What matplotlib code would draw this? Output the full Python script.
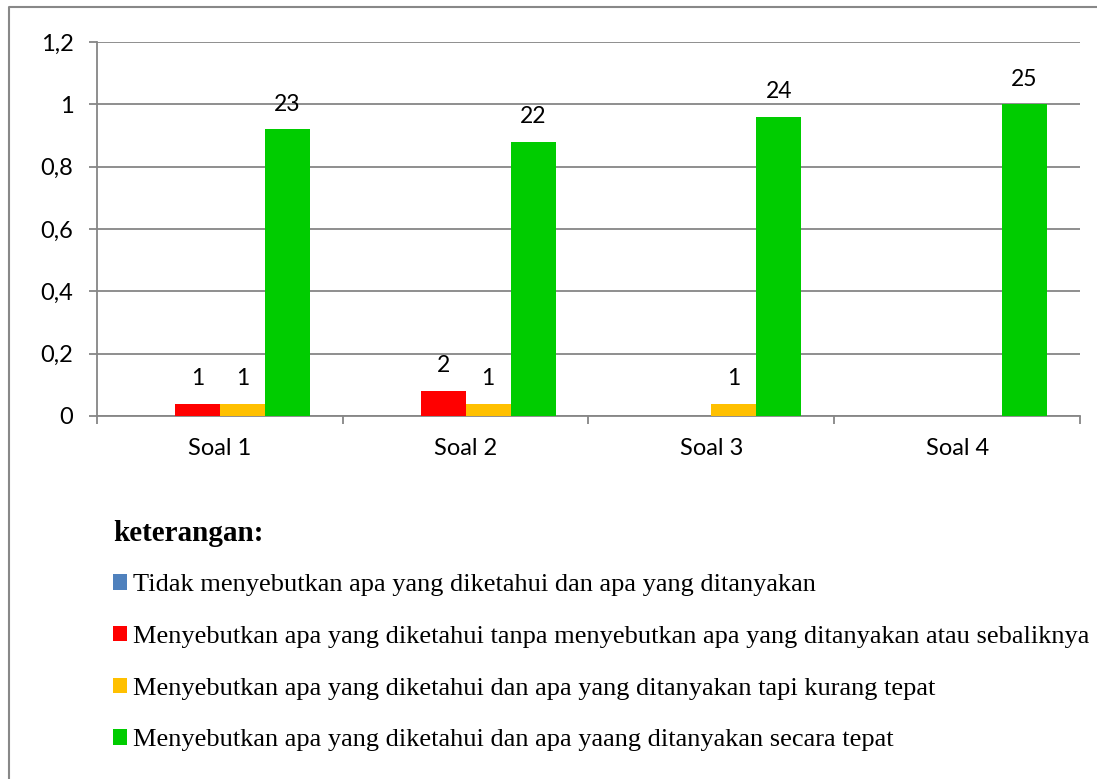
"""Bar chart: indikator memahami masalah per soal."""

import matplotlib
matplotlib.use("Agg")
import matplotlib.pyplot as plt
from matplotlib.lines import Line2D
from matplotlib.ticker import FuncFormatter
import numpy as np

SOAL = ["Soal 1", "Soal 2", "Soal 3", "Soal 4"]
KETERANGAN = [
    "Tidak menyebutkan apa yang diketahui dan apa yang ditanyakan",
    "Menyebutkan apa yang diketahui tanpa menyebutkan apa yang ditanyakan atau sebaliknya",
    "Menyebutkan apa yang diketahui dan apa yang ditanyakan tapi kurang tepat",
    "Menyebutkan apa yang diketahui dan apa yaang ditanyakan secara tepat",
]
# jumlah siswa per kategori (dari 25 siswa)
tidak = [0, 0, 0, 0]
tanpa = [1, 2, 0, 0]
kurang = [1, 1, 1, 0]
tepat = [23, 22, 24, 25]
N_SISWA = 25
COLORS = ["#4F81BD", "#FF0000", "#FFC000", "#00CC00"]

fig = plt.figure(figsize=(10.97, 7.79), dpi=100)
ax = fig.add_axes([0.0884, 0.466, 0.8961, 0.480])

x = np.arange(len(SOAL))
w = 0.183
handles = []
for i, (counts, color) in enumerate(zip([tidak, tanpa, kurang, tepat], COLORS)):
    vals = np.array(counts) / N_SISWA
    bars = ax.bar(x + (i - 1.5) * w, vals, w, color=color, zorder=3)
    handles.append(bars)
    for b, c in zip(bars, counts):
        if c:
            ax.annotate(str(c), (b.get_x() + b.get_width() / 2, b.get_height()),
                        xytext=(0, 10.5), textcoords="offset points",
                        ha="center", va="bottom", fontsize=16.5, family="Lato")

ax.set_xlim(-0.5, 3.5)
ax.set_ylim(0, 1.2)
ax.set_yticks(np.arange(0, 1.21, 0.2))
ax.yaxis.set_major_formatter(FuncFormatter(lambda v, _: f"{v:.1f}".replace(".", ",").replace(",0", "") if v else "0"))
ax.grid(axis="y", color="#868686", linewidth=1.3, zorder=0)
ax.set_xticks(np.arange(-0.5, 4, 1))
ax.set_xticklabels([])
ax.set_xticks(x, minor=True)
ax.set_xticklabels(SOAL, minor=True)
ax.tick_params(axis="x", which="minor", length=0, pad=16, labelsize=17)
ax.tick_params(axis="x", which="major", length=6, color="#868686", width=1.3)
ax.tick_params(axis="y", length=6, color="#868686", width=1.3, pad=11, labelsize=17)
for lab in ax.get_xticklabels(minor=True) + ax.get_yticklabels():
    lab.set_family("Lato")
for s in ["top", "right"]:
    ax.spines[s].set_visible(False)
for s in ["left", "bottom"]:
    ax.spines[s].set_color("#868686")
    ax.spines[s].set_linewidth(1.3)

leg = fig.legend(handles, KETERANGAN, loc="upper left", bbox_to_anchor=(0.103, 0.333),
                 frameon=False, prop={"family": "Liberation Serif", "size": 19},
                 handlelength=0.52, handleheight=0.52, handletextpad=0.25,
                 labelspacing=1.12, borderpad=0, borderaxespad=0,
                 title="keterangan:", alignment="left",
                 title_fontproperties={"family": "Liberation Serif", "size": 21, "weight": "bold"})
leg._legend_box.sep = 20

# outer frame of the pasted chart (only left and top edges visible)
fig.add_artist(Line2D([9 / 1097, 9 / 1097, 1.0], [0.0, 1 - 7 / 779, 1 - 7 / 779],
                      transform=fig.transFigure, color="#888888", linewidth=1.5))

fig.savefig("out.png", dpi=100)
